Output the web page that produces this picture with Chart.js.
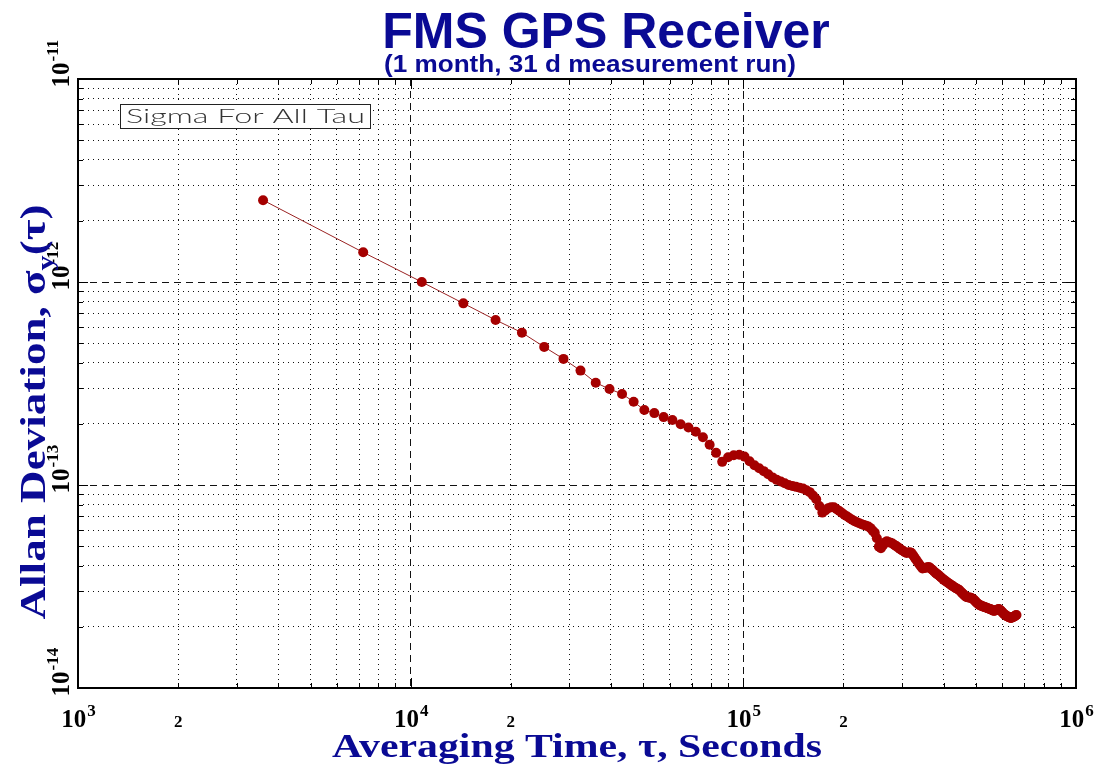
<!DOCTYPE html>
<html>
<head>
<meta charset="utf-8">
<title>FMS GPS Receiver</title>
<script src="https://cdn.jsdelivr.net/npm/chart.js@4.4.1/dist/chart.umd.min.js"></script>
<style>
  html, body { margin: 0; padding: 0; background: #fff; }
  #wrap { width: 1100px; height: 768px; }
</style>
</head>
<body>
<div id="wrap"><canvas id="adevChart" width="1100" height="768"></canvas></div>
<script>
// averaging time tau, seconds (all tau, 1 hour steps)
const tauSeconds = [
    3600, 7200, 10800, 14400, 18000, 21600, 25200, 28800, 32400, 36000,
    39600, 43200, 46800, 50400, 54000, 57600, 61200, 64800, 68400, 72000,
    75600, 79200, 82800, 86400, 90000, 93600, 97200, 100800, 104400, 108000,
    111600, 115200, 118800, 122400, 126000, 129600, 133200, 136800, 140400, 144000,
    147600, 151200, 154800, 158400, 162000, 165600, 169200, 172800, 176400, 180000,
    183600, 187200, 190800, 194400, 198000, 201600, 205200, 208800, 212400, 216000,
    219600, 223200, 226800, 230400, 234000, 237600, 241200, 244800, 248400, 252000,
    255600, 259200, 262800, 266400, 270000, 273600, 277200, 280800, 284400, 288000,
    291600, 295200, 298800, 302400, 306000, 309600, 313200, 316800, 320400, 324000,
    327600, 331200, 334800, 338400, 342000, 345600, 349200, 352800, 356400, 360000,
    363600, 367200, 370800, 374400, 378000, 381600, 385200, 388800, 392400, 396000,
    399600, 403200, 406800, 410400, 414000, 417600, 421200, 424800, 428400, 432000,
    435600, 439200, 442800, 446400, 450000, 453600, 457200, 460800, 464400, 468000,
    471600, 475200, 478800, 482400, 486000, 489600, 493200, 496800, 500400, 504000,
    507600, 511200, 514800, 518400, 522000, 525600, 529200, 532800, 536400, 540000,
    543600, 547200, 550800, 554400, 558000, 561600, 565200, 568800, 572400, 576000,
    579600, 583200, 586800, 590400, 594000, 597600, 601200, 604800, 608400, 612000,
    615600, 619200, 622800, 626400, 630000, 633600, 637200, 640800, 644400, 648000,
    651600, 655200, 658800, 662400
];

// Allan deviation sigma_y(tau)
const adevValues = [
    2.53e-12, 1.40e-12, 1.00e-12, 7.85e-13, 6.50e-13, 5.63e-13, 4.79e-13, 4.18e-13, 3.66e-13, 3.19e-13,
    2.97e-13, 2.81e-13, 2.57e-13, 2.34e-13, 2.26e-13, 2.16e-13, 2.09e-13, 1.99e-13, 1.92e-13, 1.83e-13,
    1.72e-13, 1.58e-13, 1.44e-13, 1.30e-13, 1.37e-13, 1.40e-13, 1.41e-13, 1.38e-13, 1.31e-13, 1.25e-13,
    1.21e-13, 1.17e-13, 1.13e-13, 1.09e-13, 1.06e-13, 1.04e-13, 1.02e-13, 1.00e-13, 9.90e-14, 9.79e-14,
    9.69e-14, 9.60e-14, 9.41e-14, 9.22e-14, 8.87e-14, 8.51e-14, 7.88e-14, 7.31e-14, 7.49e-14, 7.69e-14,
    7.78e-14, 7.76e-14, 7.60e-14, 7.44e-14, 7.28e-14, 7.12e-14, 6.99e-14, 6.86e-14, 6.74e-14, 6.63e-14,
    6.55e-14, 6.48e-14, 6.41e-14, 6.35e-14, 6.30e-14, 6.25e-14, 6.13e-14, 5.96e-14, 5.81e-14, 5.47e-14,
    4.97e-14, 4.88e-14, 5.04e-14, 5.21e-14, 5.28e-14, 5.23e-14, 5.19e-14, 5.15e-14, 5.07e-14, 5.00e-14,
    4.93e-14, 4.86e-14, 4.79e-14, 4.73e-14, 4.66e-14, 4.63e-14, 4.65e-14, 4.67e-14, 4.62e-14, 4.50e-14,
    4.38e-14, 4.27e-14, 4.16e-14, 4.06e-14, 3.97e-14, 3.88e-14, 3.90e-14, 3.91e-14, 3.92e-14, 3.94e-14,
    3.92e-14, 3.86e-14, 3.81e-14, 3.75e-14, 3.70e-14, 3.65e-14, 3.61e-14, 3.56e-14, 3.51e-14, 3.47e-14,
    3.42e-14, 3.39e-14, 3.35e-14, 3.32e-14, 3.28e-14, 3.25e-14, 3.22e-14, 3.18e-14, 3.16e-14, 3.13e-14,
    3.10e-14, 3.08e-14, 3.06e-14, 3.03e-14, 2.99e-14, 2.95e-14, 2.91e-14, 2.87e-14, 2.84e-14, 2.81e-14,
    2.80e-14, 2.79e-14, 2.79e-14, 2.78e-14, 2.77e-14, 2.75e-14, 2.72e-14, 2.69e-14, 2.65e-14, 2.62e-14,
    2.60e-14, 2.57e-14, 2.55e-14, 2.55e-14, 2.53e-14, 2.52e-14, 2.51e-14, 2.50e-14, 2.49e-14, 2.48e-14,
    2.47e-14, 2.46e-14, 2.45e-14, 2.44e-14, 2.43e-14, 2.41e-14, 2.40e-14, 2.40e-14, 2.41e-14, 2.42e-14,
    2.43e-14, 2.44e-14, 2.45e-14, 2.43e-14, 2.40e-14, 2.38e-14, 2.36e-14, 2.33e-14, 2.31e-14, 2.29e-14,
    2.28e-14, 2.26e-14, 2.25e-14, 2.24e-14, 2.23e-14, 2.22e-14, 2.21e-14, 2.22e-14, 2.23e-14, 2.24e-14,
    2.25e-14, 2.26e-14, 2.28e-14, 2.29e-14
];

// grid / tick positions
const xGridValues = [
    1e3, 2e3, 3e3, 4e3, 5e3, 6e3, 7e3, 8e3, 9e3,
    1e4, 2e4, 3e4, 4e4, 5e4, 6e4, 7e4, 8e4, 9e4,
    1e5, 2e5, 3e5, 4e5, 5e5, 6e5, 7e5, 8e5, 9e5, 1e6
];
const yGridValues = [
    1e-14, 2e-14, 3e-14, 4e-14, 5e-14, 6e-14, 7e-14, 8e-14, 9e-14,
    1e-13, 2e-13, 3e-13, 4e-13, 5e-13, 6e-13, 7e-13, 8e-13, 9e-13,
    1e-12, 2e-12, 3e-12, 4e-12, 5e-12, 6e-12, 7e-12, 8e-12, 9e-12, 1e-11
];

// tick labels
const xDecades = [1e3, 1e4, 1e5, 1e6];
const xDecadeExp = ['3', '4', '5', '6'];
const xMinorLabelled = [2e3, 2e4, 2e5];
const xMinorText = ['2', '2', '2'];
const yDecades = [1e-14, 1e-13, 1e-12, 1e-11];
const yDecadeExp = ['-14', '-13', '-12', '-11'];

const chartTitle = 'FMS GPS Receiver';
const chartSubtitle = '(1 month, 31 d measurement run)';
const xTitle = 'Averaging Time, \u03c4, Seconds';

const navy = '#0a0a94';
const serif = '"Liberation Serif", "Times New Roman", serif';

function isDecade(v) {
    const l = Math.log10(v);
    return Math.abs(l - Math.round(l)) < 1e-9;
}

function gridDash(ctx) {
    if (!ctx.tick) return [];
    return isDecade(ctx.tick.value) ? [7, 5] : [1, 4];
}

// widths of "10" and its exponent
function powerWidths(ctx, exp) {
    ctx.font = 'bold 25px ' + serif;
    const wBase = ctx.measureText('10').width;
    ctx.font = 'bold 17px ' + serif;
    const wExp = ctx.measureText(exp).width;
    return { wBase, wExp };
}

const decorations = {
    id: 'decorations',
    afterDraw(chart) {
        const { ctx, chartArea: a, scales } = chart;
        const xs = scales.x, ys = scales.y;
        ctx.save();

        // small tick marks inside the frame
        ctx.strokeStyle = '#000';
        ctx.lineWidth = 1;
        ctx.setLineDash([]);
        ctx.beginPath();
        xGridValues.forEach(v => {
            const px = Math.round(xs.getPixelForValue(v)) + 0.5;
            const len = isDecade(v) ? 10 : 5;
            ctx.moveTo(px, a.bottom); ctx.lineTo(px, a.bottom - len);
            ctx.moveTo(px, a.top); ctx.lineTo(px, a.top + len);
        });
        yGridValues.forEach(v => {
            const py = Math.round(ys.getPixelForValue(v)) + 0.5;
            const len = isDecade(v) ? 10 : 5;
            ctx.moveTo(a.left, py); ctx.lineTo(a.left + len, py);
            ctx.moveTo(a.right, py); ctx.lineTo(a.right - len, py);
        });
        ctx.stroke();

        // frame
        ctx.lineWidth = 2;
        ctx.strokeRect(a.left, a.top, a.right - a.left, a.bottom - a.top);

        // x tick labels
        ctx.fillStyle = '#000';
        ctx.textBaseline = 'alphabetic';
        ctx.textAlign = 'left';
        xDecades.forEach((v, i) => {
            const px = xs.getPixelForValue(v);
            const { wBase, wExp } = powerWidths(ctx, xDecadeExp[i]);
            const start = px - (wBase + wExp) / 2;
            ctx.font = 'bold 25px ' + serif;
            ctx.fillText('10', start, 727);
            ctx.font = 'bold 17px ' + serif;
            ctx.fillText(xDecadeExp[i], start + wBase + 1, 716);
        });
        ctx.font = 'bold 17px ' + serif;
        ctx.textAlign = 'center';
        xMinorLabelled.forEach((v, i) => {
            ctx.fillText(xMinorText[i], xs.getPixelForValue(v), 727);
        });

        // y tick labels, rotated
        ctx.textAlign = 'left';
        yDecades.forEach((v, i) => {
            const py = ys.getPixelForValue(v);
            const { wBase } = powerWidths(ctx, yDecadeExp[i]);
            ctx.save();
            ctx.translate(69, py);
            ctx.rotate(-Math.PI / 2);
            const start = 4 - wBase / 2;
            ctx.font = 'bold 25px ' + serif;
            ctx.fillText('10', start, 0);
            ctx.font = 'bold 17px ' + serif;
            ctx.fillText(yDecadeExp[i], start + wBase + 1, -11);
            ctx.restore();
        });

        // titles
        ctx.fillStyle = navy;
        ctx.textAlign = 'center';
        ctx.font = 'bold 50px "Liberation Sans", Arial, sans-serif';
        ctx.fillText(chartTitle, 606, 48);
        ctx.font = 'bold 23px "Liberation Sans", Arial, sans-serif';
        ctx.save();
        let w = ctx.measureText(chartSubtitle).width;
        ctx.translate(590, 72);
        ctx.scale(412 / w, 1);
        ctx.fillText(chartSubtitle, 0, 0);
        ctx.restore();

        // x axis title
        ctx.font = 'bold 34px ' + serif;
        ctx.save();
        w = ctx.measureText(xTitle).width;
        ctx.translate(577, 757);
        ctx.scale(490 / w, 1);
        ctx.fillText(xTitle, 0, 0);
        ctx.restore();

        // y axis title: Allan Deviation, sigma_y(tau)
        const partA = 'Allan Deviation, \u03c3';
        const partSub = 'y';
        const partB = '(\u03c4)';
        ctx.font = 'bold 36px ' + serif;
        const wA = ctx.measureText(partA).width;
        const wB = ctx.measureText(partB).width;
        ctx.font = 'bold 24px ' + serif;
        const wS = ctx.measureText(partSub).width;
        const total = wA + wS + wB;
        ctx.save();
        ctx.translate(45, 412);
        ctx.rotate(-Math.PI / 2);
        ctx.scale(415 / total, 1);
        ctx.textAlign = 'left';
        let u = -total / 2;
        ctx.font = 'bold 36px ' + serif;
        ctx.fillText(partA, u, 0);
        u += wA;
        ctx.font = 'bold 24px ' + serif;
        ctx.fillText(partSub, u, 8);
        u += wS;
        ctx.font = 'bold 36px ' + serif;
        ctx.fillText(partB, u, 0);
        ctx.restore();

        // legend box
        const label = chart.data.datasets[0].label;
        ctx.fillStyle = '#fff';
        ctx.fillRect(120, 104, 250, 24);
        ctx.strokeStyle = '#222';
        ctx.lineWidth = 1;
        ctx.strokeRect(120.5, 104.5, 250, 24);
        ctx.fillStyle = '#333';
        ctx.textAlign = 'left';
        ctx.font = '300 20px Lato, "Liberation Sans", sans-serif';
        w = ctx.measureText(label).width;
        ctx.save();
        ctx.translate(126, 123);
        ctx.scale(239 / w, 1);
        ctx.fillText(label, 0, 0);
        ctx.restore();

        ctx.restore();
    }
};

const points = tauSeconds.map((t, i) => ({ x: t, y: adevValues[i] }));

const ctx = document.getElementById('adevChart').getContext('2d');
new Chart(ctx, {
    type: 'scatter',
    data: {
        datasets: [{
            label: 'Sigma For All Tau',
            data: points,
            showLine: true,
            borderColor: '#9a2222',
            borderWidth: 1,
            pointRadius: 5,
            pointBackgroundColor: '#a50000',
            pointBorderColor: '#a50000',
            pointBorderWidth: 0
        }]
    },
    options: {
        responsive: false,
        animation: false,
        devicePixelRatio: 1,
        layout: { padding: { left: 78, right: 24, top: 79, bottom: 80 } },
        plugins: {
            legend: { display: false },
            tooltip: { enabled: false },
            title: { display: false }
        },
        scales: {
            x: {
                type: 'logarithmic',
                min: 1e3,
                max: 1e6,
                afterBuildTicks: scale => { scale.ticks = xGridValues.map(v => ({ value: v })); },
                ticks: { display: false },
                grid: { drawTicks: false, color: '#111', lineWidth: 1 },
                border: { display: false, dash: gridDash }
            },
            y: {
                type: 'logarithmic',
                min: 1e-14,
                max: 1e-11,
                afterBuildTicks: scale => { scale.ticks = yGridValues.map(v => ({ value: v })); },
                ticks: { display: false },
                grid: { drawTicks: false, color: '#111', lineWidth: 1 },
                border: { display: false, dash: gridDash }
            }
        }
    },
    plugins: [decorations]
});
</script>
</body>
</html>
